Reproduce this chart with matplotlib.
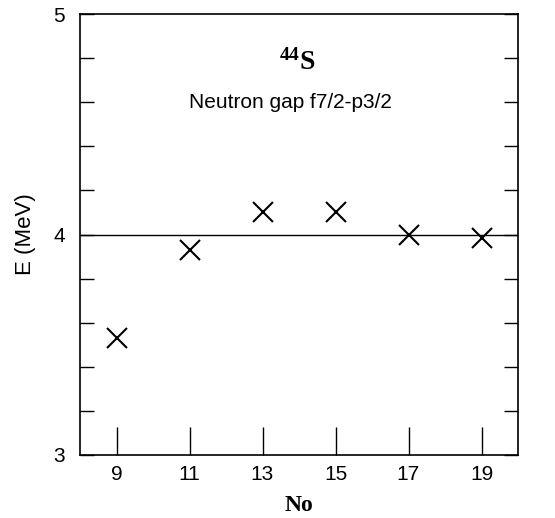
import matplotlib.pyplot as plt
from matplotlib.ticker import MultipleLocator

# data
n_o = [9, 11, 13, 15, 17, 19]
energy = [3.53, 3.93, 4.10, 4.10, 4.00, 3.985]
x_ticks = [9, 11, 13, 15, 17, 19]
y_ticks = [3, 4, 5]

plt.rcParams['font.family'] = ['Liberation Sans', 'DejaVu Sans']
plt.rcParams['mathtext.fontset'] = 'custom'
plt.rcParams['mathtext.rm'] = 'Liberation Serif'
plt.rcParams['mathtext.bf'] = 'Liberation Serif:bold'

fig = plt.figure(figsize=(5.55, 5.18), dpi=100)
ax = fig.add_axes([80 / 555, 1 - 455 / 518, 438 / 555, 441 / 518])

ax.plot(n_o, energy, linestyle='none', marker='x', markersize=14,
        markeredgewidth=1.5, color='black')
ax.axhline(4.0, color='black', linewidth=1.0)

ax.set_xlim(8, 20)
ax.set_ylim(3, 5)
ax.set_xticks(x_ticks)
ax.set_yticks(y_ticks)
ax.yaxis.set_minor_locator(MultipleLocator(0.2))

ax.tick_params(axis='x', direction='in', length=20, width=1, top=False,
               labelsize=15, pad=7)
ax.tick_params(axis='y', which='both', direction='in', length=10, width=1,
               right=True, labelsize=15, pad=11)
for s in ax.spines.values():
    s.set_linewidth(1.2)

ax.set_xlabel('No', family=['Liberation Serif', 'DejaVu Serif'],
              fontweight='bold', fontsize=17, labelpad=8)
ax.set_ylabel('E (MeV)', fontsize=16, labelpad=12)

ax.text(0.495, 0.89, r'$\mathbf{^{44}S}$', transform=ax.transAxes, ha='center',
        va='center', fontsize=20)
ax.text(0.48, 0.80, 'Neutron gap f7/2-p3/2', transform=ax.transAxes,
        ha='center', va='center', fontsize=15)

fig.savefig('out.png', dpi=100)
